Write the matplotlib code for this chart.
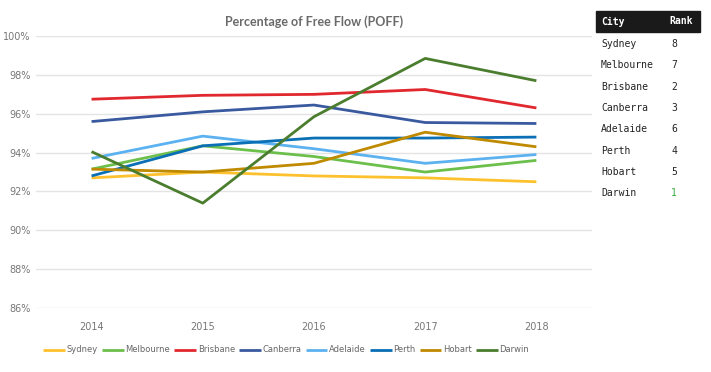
import matplotlib.pyplot as plt
from matplotlib.patches import Rectangle
from matplotlib.ticker import FuncFormatter

years = ["2014", "2015", "2016", "2017", "2018"]
cities = ["Sydney", "Melbourne", "Brisbane", "Canberra", "Adelaide", "Perth", "Hobart", "Darwin"]

sydney = [92.7, 93.0, 92.8, 92.7, 92.5]
melbourne = [93.15, 94.35, 93.8, 93.0, 93.6]
brisbane = [96.75, 96.95, 97.0, 97.25, 96.3]
canberra = [95.6, 96.1, 96.45, 95.55, 95.5]
adelaide = [93.7, 94.85, 94.2, 93.45, 93.9]
perth = [92.8, 94.35, 94.75, 94.75, 94.8]
hobart = [93.15, 93.0, 93.45, 95.05, 94.3]
darwin = [94.05, 91.4, 95.85, 98.85, 97.7]

ranks = [8, 7, 2, 3, 6, 4, 5, 1]

series = [sydney, melbourne, brisbane, canberra, adelaide, perth, hobart, darwin]
colors = ["#fdc12e", "#6cbf4b", "#e0282e", "#3a5aa0", "#5cb2f0", "#0a6fb5", "#bf8a00", "#4b7d2e"]

fig = plt.figure(figsize=(7.11, 3.72), dpi=100)
ax = fig.add_axes([0.0506, 0.172, 0.782, 0.731])

x = list(range(len(years)))
for name, vals, c in zip(cities, series, colors):
    ax.plot(x, vals, color=c, lw=2.0, label=name, solid_capstyle="butt")

ax.set_xlim(-0.5, len(years) - 0.5)
ax.set_ylim(86, 100)
ax.set_yticks(range(86, 101, 2))
ax.yaxis.set_major_formatter(FuncFormatter(lambda v, p: f"{v:.0f}%"))
ax.set_xticks(x)
ax.set_xticklabels(years)
ax.grid(axis="y", color="#e4e4e4", lw=1)
ax.set_axisbelow(True)
for s in ax.spines.values():
    s.set_visible(False)
ax.tick_params(length=0, labelsize=7, colors="#777777", pad=4)
ax.tick_params(axis="x", pad=10)

fig.text(0.442, 0.943, "Percentage of Free Flow (POFF)", ha="center", va="center",
         fontsize=9, fontweight="bold", color="#6a6a6a", family="Lato")

ax.legend(loc="upper center", bbox_to_anchor=(0.45, -0.11), ncol=8, frameon=False,
          fontsize=6, handlelength=2.6, handletextpad=0.2, columnspacing=0.5,
          labelcolor="#666666")

# rank table
fig.patches.append(Rectangle((596 / 711, 1 - 32 / 372), 104 / 711, 21 / 372,
                             transform=fig.transFigure, color="#1a1a1a"))
mono = "DejaVu Sans Mono"
fig.text(601 / 711, 1 - 21.5 / 372, "City", color="white", fontsize=7, family=mono,
         fontweight="bold", va="center")
fig.text(669 / 711, 1 - 21.5 / 372, "Rank", color="white", fontsize=7, family=mono,
         fontweight="bold", va="center")
for i, (name, r) in enumerate(zip(cities, ranks)):
    yy = 1 - (44 + i * 21.3) / 372
    fig.text(601 / 711, yy, name, color="#222222", fontsize=7, family=mono, va="center")
    fig.text(671 / 711, yy, str(r), color="#3aaa3a" if r == 1 else "#222222",
             fontsize=7, family=mono, va="center")

fig.savefig("out.png", dpi=100)
